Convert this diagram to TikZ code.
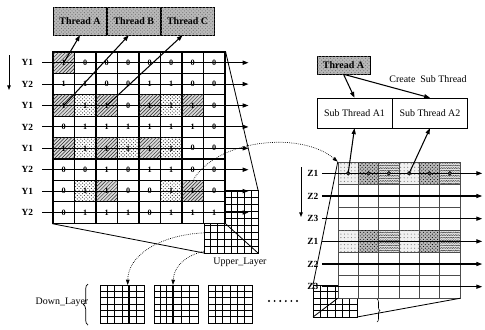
\documentclass[tikz,border=0pt]{standalone}
\usepackage{fontspec}
\setmainfont{Liberation Serif}
\usetikzlibrary{arrows.meta,positioning,patterns,calc,decorations.pathreplacing}

\pgfdeclarepatternformonly{waves}{\pgfqpoint{-0.5pt}{-0.5pt}}{\pgfqpoint{4.5pt}{2.5pt}}{\pgfqpoint{4pt}{2.2pt}}{%
  \pgfsetlinewidth{0.4pt}%
  \pgfpathmoveto{\pgfqpoint{0pt}{0.5pt}}%
  \pgfpathlineto{\pgfqpoint{1pt}{1.4pt}}%
  \pgfpathlineto{\pgfqpoint{2pt}{0.5pt}}%
  \pgfpathlineto{\pgfqpoint{3pt}{1.4pt}}%
  \pgfpathlineto{\pgfqpoint{4pt}{0.5pt}}%
  \pgfusepath{stroke}}

% small grid lines inside a layer box: x0,y0,x1,y1,nx,ny
\newcommand{\layergrid}[6]{%
  \pgfmathtruncatemacro{\nxm}{#5-1}%
  \pgfmathtruncatemacro{\nym}{#6-1}%
  \foreach \i in {1,...,\nxm}{\draw[gridline] ({#1+(#3-#1)*\i/#5},#2) -- ({#1+(#3-#1)*\i/#5},#4);}%
  \foreach \j in {1,...,\nym}{\draw[gridline] (#1,{#2+(#4-#2)*\j/#6}) -- (#3,{#2+(#4-#2)*\j/#6});}%
}

\tikzset{
  cellbox/.style={draw,fill=white,line width=0.9pt,minimum width=0.645cm,minimum height=0.642cm,
                  inner sep=0pt,font=\fontsize{7}{7}\selectfont\bfseries},
  pat h/.style={fill=gray!30,postaction={pattern=north east lines,pattern color=black!85}},
  pat d/.style={postaction={pattern=crosshatch dots,pattern color=black!85}},
  pat p/.style={},
  rcell/.style={draw=black!70,fill=white,thin,minimum width=0.61cm,minimum height=0.68cm,inner sep=0pt},
  pat l/.style={fill=gray!12,postaction={pattern=dots,pattern color=black!55}},
  pat k/.style={fill=gray!55,postaction={pattern=crosshatch dots,pattern color=black}},
  pat w/.style={fill=gray!20,postaction={pattern=waves,pattern color=black!75}},
  thbox/.style={draw,fill=gray!55,postaction={pattern=crosshatch dots,pattern color=black!55},
                minimum width=1.6cm,minimum height=0.84cm,inner sep=0pt,
                font=\fontsize{8.5}{8.5}\selectfont\bfseries},
  subbox/.style={draw,fill=white,thin,minimum width=2.25cm,minimum height=0.9cm,inner sep=0pt,
                 font=\fontsize{8.5}{8.5}\selectfont},
  rowlab/.style={font=\fontsize{8}{8}\selectfont\bfseries,inner sep=1pt},
  layerbox/.style={draw,line width=0.8pt,fill=white,inner sep=0pt,outer sep=0pt},
  gridline/.style={line width=0.45pt},
  lbl/.style={font=\fontsize{8.5}{9}\selectfont,inner sep=1pt},
  arr/.style={-{Triangle[length=5pt,width=3.5pt]},line width=0.9pt},
  darr/.style={-{Triangle[length=4.5pt,width=3pt]},densely dotted,line width=0.6pt},
}

\begin{document}
\begin{tikzpicture}[x=0.03cm,y=-0.03cm]
  \useasboundingbox (0,0) rectangle (485,329);

  % upper layer, partly under the magnified grid
  \node[layerbox,minimum width=1.62cm,minimum height=1.89cm] (upper) at (231,221.5) {};
  \layergrid{204}{190}{258}{253}{8}{9}
  \node[lbl] (uplab) at (240,262) {Upper\_Layer};

  % magnified grid of the upper layer
  \foreach \row [count=\r] in {{h/1,p/0,p/0,p/0,p/0,p/0,p/0,p/0},
                               {p/1,p/1,p/0,p/0,p/1,p/1,p/0,p/0},
                               {h/1,d/1,h/1,p/0,h/1,d/1,h/1,p/0},
                               {p/0,p/1,p/1,p/1,p/1,p/1,p/1,p/0},
                               {h/1,d/1,h/1,d/1,h/1,d/1,p/0,p/0},
                               {p/0,p/0,p/1,p/0,p/1,p/1,p/0,p/0},
                               {p/0,d/1,h/1,p/0,p/0,d/1,h/1,p/0},
                               {p/0,p/1,p/1,p/1,p/0,p/1,p/1,p/1}}{
    \foreach \p/\v [count=\c] in \row {
      \node[cellbox,pat \p] (L\r-\c) at ({53+21.5*(\c-0.5)},{52+21.4*(\r-0.5)}) {\v};
    }
  }
  \draw[line width=0.7pt] (L1-8.north east) -- (upper.north east);
  \draw[line width=0.7pt] (L8-1.south west) -- (upper.south west);
  \draw[line width=0.7pt] (L8-8.south east) -- (upper.south east);

  \foreach \r/\y in {1/Y1,2/Y2,3/Y1,4/Y2,5/Y1,6/Y2,7/Y1,8/Y2}{
    \node[rowlab,anchor=east] (ylab\r) at ([xshift=-0.54cm]L\r-1.west) {\y};
    \draw[arr] ([xshift=-0.3cm]L\r-1.west) -- ([xshift=0.69cm]L\r-8.east);
  }
  \coordinate (ytop) at (9,55);
  \coordinate (ybot) at (9,90);
  \draw[-{Triangle[length=4pt,width=3pt]},line width=0.8pt] (ytop) -- (ybot);

  % threads
  \node[thbox] (tA) at (80,21) {Thread A};
  \node[thbox,right=0pt of tA] (tB) {Thread B};
  \node[thbox,right=0pt of tB] (tC) {Thread C};
  \draw[arr] (L1-1.center) -- (tA.south);
  \draw[arr] (L3-1.center) -- ([xshift=-0.15cm]tB.south);
  \draw[arr] (L3-3.center) -- ([xshift=-0.15cm]tC.south);

  % down layer
  \node[lbl] (dlab) at (62,302) {Down\_Layer};
  \draw[decorate,decoration={brace,amplitude=4pt},line width=0.6pt] (88,325) -- (88,284);
  \node[layerbox,minimum width=1.32cm,minimum height=1.14cm] (d1) at (122,304) {};
  \node[layerbox,minimum width=1.32cm,minimum height=1.14cm,right=0.3cm of d1] (d2) {};
  \node[layerbox,minimum width=1.32cm,minimum height=1.14cm,right=0.3cm of d2] (d3) {};
  \layergrid{100}{285}{144}{323}{6}{6}
  \layergrid{154}{285}{173}{323}{3}{6}
  \layergrid{173}{285}{198}{323}{3}{6}
  \layergrid{208}{285}{252}{323}{6}{6}
  \draw[line width=1.1pt] ($(d1.north west)!0.65!(d1.north east)$) -- ($(d1.south west)!0.65!(d1.south east)$);
  \draw[line width=1.1pt] ($(d2.north west)!0.43!(d2.north east)$) -- ($(d2.south west)!0.43!(d2.south east)$);
  \foreach \i in {0,...,5} \fill (269+5.6*\i,301) circle (0.9pt);
  \draw[darr] ($(upper.north west)!0.68!(upper.south west)$) .. controls (160,235) and (128,255) .. ($(d1.north west)!0.63!(d1.north east)$);
  \draw[darr] ($(upper.north west)!0.97!(upper.south west)$) .. controls (185,256) and (174,266) .. ($(d2.north west)!0.43!(d2.north east)$);

  % sub thread side
  \node[layerbox,minimum width=1.32cm,minimum height=0.96cm] (rsmall) at (335,301) {};
  \layergrid{313}{285}{357}{317}{6}{5}
  \foreach \row [count=\r] in {{l,k,w,l,k,w},{p,p,p,p,p,p},{p,p,p,p,p,p},
                               {l,k,w,l,k,w},{p,p,p,p,p,p},{p,p,p,p,p,p}}{
    \foreach \p [count=\c] in \row {
      \node[rcell,pat \p] (R\r-\c) at ({338+20.33*(\c-0.5)},{162+22.67*(\r-0.5)}) {};
    }
  }
  \draw[line width=0.7pt] (R1-1.north west) -- (rsmall.north west);
  \draw[line width=0.7pt] (R6-1.south west) -- (rsmall.south west);
  \draw[line width=0.7pt] (R6-6.south east) -- (rsmall.south east);
  \draw[decorate,decoration={brace,amplitude=2.5pt},line width=0.5pt] (377,299) -- (377,322);

  \foreach \r/\z in {1/Z1,2/Z2,3/Z3,4/Z1,5/Z2,6/Z3}{
    \node[rowlab,anchor=east] (zlab\r) at ([xshift=-0.54cm]R\r-1.west) {\z};
    \draw[arr] ([xshift=-0.48cm]R\r-1.west) -- ([xshift=0.66cm]R\r-6.east);
  }
  \coordinate (ztop) at (301,167);
  \coordinate (zbot) at (301,217);
  \draw[-{Triangle[length=4pt,width=3pt]},line width=0.8pt] (ztop) -- (zbot);
  \foreach \c in {1,...,6} \filldraw[fill=black!70,line width=0.5pt] (R1-\c.center) circle (1.6pt);

  \node[thbox,minimum width=1.59cm,minimum height=0.54cm] (tAr) at (343.5,65) {Thread A};
  \node[subbox] (sA1) at (354.5,113) {Sub Thread A1};
  \node[subbox,right=0pt of sA1] (sA2) {Sub Thread A2};
  \draw[arr] (tAr.south) -- (sA1.north);
  \draw[arr] (tAr.south) -- (sA2.north);
  \node[lbl] (create) at (428,79) {Create\ \ Sub Thread};
  \draw[arr] (R1-1.center) -- (sA1.south);
  \draw[arr] (R1-4.center) -- (sA2.south);

  % magnified cell goes to a sub thread
  \draw[darr] (L6-7.south) .. controls (215,140) and (300,130) .. (R1-1.north west);
\end{tikzpicture}
\end{document}
